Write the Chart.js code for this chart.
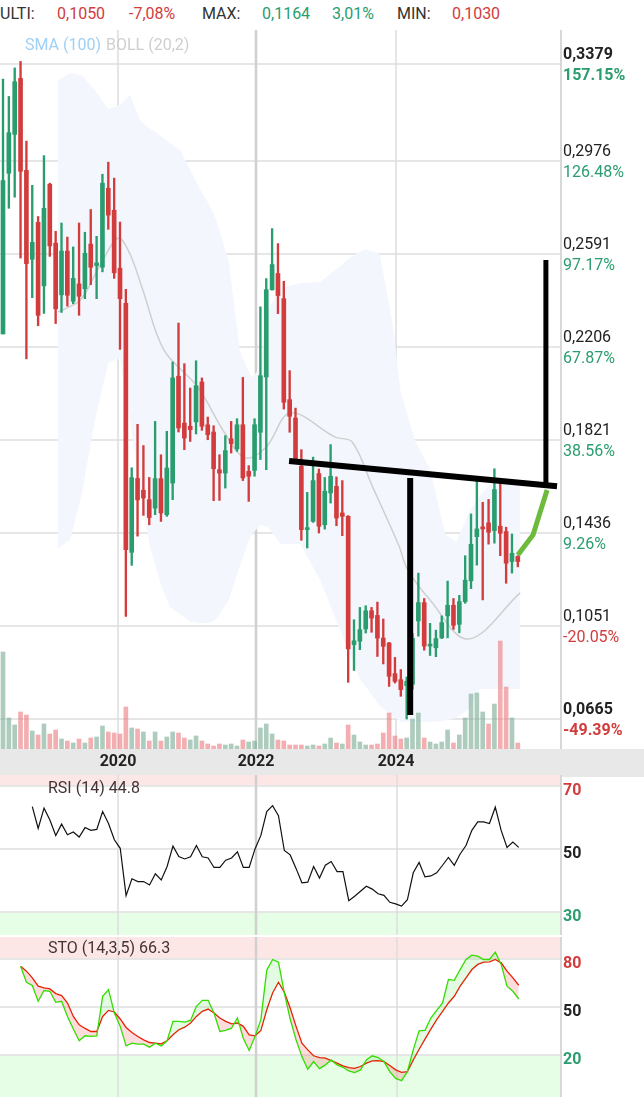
<!DOCTYPE html>
<html><head><meta charset="utf-8">
<script src="https://cdn.jsdelivr.net/npm/chart.js@4/dist/chart.umd.min.js"></script>
<style>
body{margin:0;width:644px;height:1097px;overflow:hidden;background:#fff;font-family:Roboto,sans-serif;position:relative}
canvas{position:absolute;left:0}
.t{position:absolute;font-size:16px;white-space:nowrap;line-height:18px}
</style></head><body>
<div class="t" style="left:0;top:5px;color:#333">ULTI:</div>
<div class="t" style="left:57px;top:5px;color:#d23c3c">0,1050</div>
<div class="t" style="left:129px;top:5px;color:#d23c3c">-7,08%</div>
<div class="t" style="left:202px;top:5px;color:#333">MAX:</div>
<div class="t" style="left:262px;top:5px;color:#2a9d6f">0,1164</div>
<div class="t" style="left:332px;top:5px;color:#2a9d6f">3,01%</div>
<div class="t" style="left:397px;top:5px;color:#333">MIN:</div>
<div class="t" style="left:452px;top:5px;color:#d23c3c">0,1030</div>
<canvas id="main" width="644" height="747" style="top:30px"></canvas>
<canvas id="rsi" width="644" height="160" style="top:775px"></canvas>
<canvas id="sto" width="644" height="160" style="top:937px"></canvas>
<div class="t" style="left:25px;top:36px;color:#9fd0f5">SMA (100)</div>
<div class="t" style="left:106px;top:36px;color:#cfcfcf">BOLL (20,2)</div>
<script>
const opens=[.226,.2925,.3086,.3318,.2937,.2569,.2722,.2459,.2879,.2636,.2422,.2603,.2395,.2467,.2447,.2632,.2543,.2536,.2863,.2772,.2532,.2387,.1356,.1662,.1613,.1574,.1539,.1661,.1512,.1643,.2085,.1891,.1878,.1896,.2061,.1884,.1854,.1698,.1684,.1826,.1784,.1884,.1691,.1695,.1853,.2082,.2443,.2510,.2406,.1988,.1912,.1712,.1450,.1484,.1682,.1470,.1602,.1629,.1519,.1505,.0974,.0988,.1039,.1114,.1095,.1001,.0981,.0854,.0829,.0804,.0810,.1072,.1148,.0968,.0961,.1002,.1093,.1137,.1058,.1152,.1238,.1421,.1455,.1478,.1446,.1464,.1442,.1318,.1339];
const highs=[.3315,.3243,.3361,.3388,.3058,.2875,.2746,.2998,.2884,.2685,.2719,.2661,.2620,.2719,.2681,.2775,.2664,.2921,.2971,.2905,.2723,.2445,.1706,.1886,.1798,.1666,.1898,.1760,.1857,.2144,.2305,.2137,.2036,.2149,.2078,.1916,.1880,.1760,.1839,.1898,.1909,.2080,.1715,.1909,.2372,.2489,.2696,.2634,.2478,.2108,.1953,.1781,.1604,.1750,.1701,.1666,.1802,.1668,.1653,.1508,.1077,.1128,.1135,.1128,.1150,.1080,.0983,.0921,.0871,.0840,.1020,.1270,.1165,.1062,.1034,.1093,.1237,.1165,.1178,.1342,.1515,.1653,.1563,.1575,.1702,.1647,.1460,.1432,.1342];
const lows=[.226,.2780,.2826,.2574,.2157,.2410,.2294,.2345,.2581,.2303,.2349,.2375,.2385,.2337,.2406,.2464,.2406,.2517,.2693,.2490,.2196,.1091,.1302,.1423,.1509,.1470,.1512,.1484,.1505,.1574,.1854,.1781,.1815,.1846,.1861,.1822,.1570,.1571,.1622,.1767,.1774,.1653,.1567,.1671,.1740,.1698,.2441,.2344,.1949,.1853,.1735,.1406,.1374,.1480,.1436,.1452,.1560,.1466,.1425,.0818,.0867,.0953,.1022,.1025,.0925,.0894,.0801,.0815,.0760,.0666,.0790,.1009,.0951,.0929,.0924,.0999,.1002,.1037,.1023,.1145,.1206,.1303,.1159,.1390,.1394,.1342,.1228,.1270,.1296];
const closes=[.2895,.3093,.3304,.2933,.2551,.2639,.2337,.2780,.2624,.2364,.2603,.2420,.2490,.2416,.2594,.2536,.2554,.2884,.2752,.2513,.2406,.1367,.1665,.1573,.1581,.1500,.1661,.1519,.1705,.2078,.1871,.1829,.1864,.2046,.1878,.1843,.1702,.1684,.1777,.1806,.1884,.1664,.1671,.1884,.2087,.2443,.2547,.2419,.1977,.1919,.1740,.1450,.1457,.1653,.1464,.1609,.1671,.1498,.1505,.0956,.0990,.1036,.1114,.1084,.1001,.0967,.0843,.0822,.0788,.0822,.1000,.1148,.0968,.0975,.0999,.1065,.1137,.1054,.1152,.1241,.1389,.1453,.1453,.1439,.1616,.1435,.1311,.1352,.1318];
const volumes=[97,31,24,37,34,18,14,25,15,19,10,8,6,10,6,11,12,23,17,16,15,42,21,20,17,8,17,8,12,17,16,11,9,13,8,5,3,5,4,5,3,9,7,8,21,25,15,9,8,4,4,4,3,4,3,5,11,6,5,24,14,7,4,4,5,16,36,13,10,11,30,36,11,7,5,7,19,6,14,31,55,56,37,25,45,108,62,31,6];
const volUp=[1,1,1,0,0,1,0,1,0,0,1,0,1,0,1,0,1,1,0,0,0,0,1,0,1,0,1,0,1,1,0,0,1,1,0,0,0,0,1,1,1,0,1,1,1,1,1,0,0,0,0,0,1,1,0,1,1,0,1,0,1,1,1,0,0,0,0,0,0,1,1,1,0,1,1,1,1,0,1,1,1,1,1,0,1,0,0,1,0];
const bandX=[9.4,11.5,13.5,15.7,18,20,21.7,23.5,25.1,27,28.5,30.3,32,33.7,35.4,36.5,38.6,40.5,41.5,42.5,44,45.3,47.4,50.8,54.2,57.6,59,61,62,64.4,66.5,68,70.4,73,75.6,77.5,79.8,81.5,83.2,88.4];
const bandUpper=[.331,.334,.333,.327,.319,.321,.325,.314,.311,.308,.305,.302,.294,.286,.279,.273,.256,.219,.213,.208,.212,.236,.245,.247,.2475,.254,.257,.260,.261,.259,.232,.202,.182,.170,.143,.140,.153,.159,.1635,.165];
const bandLower=[.137,.141,.160,.190,.214,.216,.190,.160,.138,.122,.113,.110,.107,.1064,.1064,.108,.116,.130,.137,.143,.147,.146,.139,.139,.124,.1035,.095,.083,.080,.072,.068,.0654,.0654,.0654,.066,.067,.071,.079,.079,.079];
const midX=[9.4,13.2,16.6,19.7,21.7,23.9,27.5,33.3,37.9,41.4,45,49.1,56.8,59.7,63.1,67.7,69.1,73,79.5,88.4];
const midVal=[.2351,.2400,.2545,.2657,.2591,.2442,.2194,.2040,.1850,.1747,.1792,.1933,.1833,.1813,.1631,.1382,.1287,.1159,.0997,.1188];
const priceTicks=[0.3379,0.2976,0.2591,0.2206,0.1821,0.1436,0.1051,0.0665];
const pctLabels=['157.15%','126.48%','97.17%','67.87%','38.56%','9.26%','-20.05%','-49.39%'];
const yearLabels=['2020','2022','2024'];
const yearPos=[19.66,43.25,67.18];
const neckline=[{x:48.9,y:.1734},{x:94.7,y:.1630}];
const vline1=[{x:69.6,y:.1664},{x:69.6,y:.0683}];
const vline2=[{x:92.8,y:.2566},{x:92.8,y:.1631}];
const projection=[{x:88,y:.1345},{x:90.6,y:.1428},{x:93,y:.1614}];
const rsiStart=5;
const rsiVals=[63.5,56.5,63.0,59.2,54.3,57.9,54.5,55.4,53.8,56.8,55.9,56.2,61.9,58.1,52.9,50.2,35.1,40.5,39.6,39.6,38.5,42.1,40.1,44.4,50.9,47.6,46.8,47.5,51.1,47.5,47.1,44.1,44.1,46.4,47.1,49.1,44.1,44.1,50.0,54.3,61.9,63.8,60.6,49.5,48.1,43.8,39.2,39.4,44.4,40.7,44.8,46.0,42.8,42.8,33.5,34.9,36.5,38.1,37.2,35.7,35.2,33.0,32.5,31.8,33.8,42.4,45.7,41.1,41.4,42.4,44.8,47.3,44.8,48.4,51.1,55.9,58.6,58.6,58.1,63.3,55.9,50.5,52.2,50.5];
const stoStart=3;
const stoK=[75.5,65.5,63.4,53.6,60.3,59.8,52.9,53.6,44.1,36.2,28.9,32.0,31.6,32.0,56.7,60.9,46.2,37.9,25.7,27.4,26.8,26.8,24.9,27.4,25.7,28.9,41.0,41.0,40.6,41.6,50.4,54.2,54.2,46.2,34.7,35.4,36.8,43.1,30.5,22.8,31.6,42.1,73.0,79.7,78.0,58.8,42.5,29.5,19.0,11.1,15.9,11.5,13.8,16.9,13.8,12.3,10.0,9.0,10.7,16.9,19.5,18.4,15.9,9.6,5.4,4.0,9.6,23.2,35.1,35.4,43.1,47.9,52.5,67.2,66.7,73.4,79.7,82.4,81.8,79.7,79.7,84.3,76.6,63.0,59.8,55.0];
const stoD=[75.5,72.4,68.2,63.0,61.9,61.3,58.4,57.1,52.5,44.1,38.9,36.6,34.7,34.7,44.1,47.9,46.9,42.5,37.2,34.1,31.6,29.5,27.8,27.4,27.0,28.9,32.6,35.8,37.4,40.0,44.1,47.3,48.7,46.2,43.1,41.0,39.5,40.0,37.9,32.6,32.0,35.4,48.3,58.8,65.5,59.2,49.4,37.9,27.4,23.2,19.5,18.4,18.0,16.5,14.9,13.2,12.1,11.7,12.8,14.9,16.3,16.5,15.9,13.4,10.7,9.2,9.6,16.9,23.6,29.9,36.2,42.1,47.3,52.5,56.7,63.0,68.2,73.4,76.6,78.0,78.2,79.7,77.6,72.4,68.2,63.6];

const GREEN='#2a9d6f', RED='#d23c3c';
const XMIN=-0.513, XMAX=95.21;
const idx=opens.map((_,i)=>i);
const up=idx.map(i=>closes[i]>=opens[i]);
const candleCol=up.map(u=>u?GREEN:RED);
const xScale={type:'linear',min:XMIN,max:XMAX,display:false,offset:false,grid:{offset:false}};

function vGrid(ch,top,bottom){
  const c=ch.ctx,xs=ch.scales.x;
  yearPos.forEach((p,k)=>{c.strokeStyle=k==1?'#d0d0d0':'#dcdcdc';c.lineWidth=k==1?2.5:1.5;
    const x=Math.round(xs.getPixelForValue(p));c.beginPath();c.moveTo(x,top);c.lineTo(x,bottom);c.stroke();});
  c.strokeStyle='#d8d8d8';c.lineWidth=2;c.beginPath();c.moveTo(561,top);c.lineTo(561,bottom);c.stroke();
}

const mainPlugin={id:'mp',
  beforeDatasetsDraw(ch){
    const c=ch.ctx,y=ch.scales.y,a=ch.chartArea;c.save();
    c.strokeStyle='#e6e6e6';c.lineWidth=2;
    priceTicks.forEach(v=>{const py=Math.round(y.getPixelForValue(v));c.beginPath();c.moveTo(0,py);c.lineTo(a.right,py);c.stroke();});
    vGrid(ch,0,a.bottom);c.restore();
  },
  afterDraw(ch){
    const c=ch.ctx,y=ch.scales.y,a=ch.chartArea,xs=ch.scales.x;c.save();
    priceTicks.forEach((v,k)=>{const py=y.getPixelForValue(v);const b=(k==0||k==priceTicks.length-1);
      c.font=(b?'bold ':'')+'16px Roboto';c.textBaseline='alphabetic';c.fillStyle='#222';c.fillText(String(v.toFixed(4)).replace('.',','),563,py-5);
      c.fillStyle=pctLabels[k][0]=='-'?RED:GREEN;c.textBaseline='top';c.fillText(pctLabels[k],563,py+4);});
    c.fillStyle='#e8e8e8';c.fillRect(0,a.bottom,644,ch.height-a.bottom);
    c.font='bold 16px Roboto';c.fillStyle='#222';c.textAlign='center';c.textBaseline='middle';
    yearPos.forEach((p,k)=>c.fillText(yearLabels[k],xs.getPixelForValue(p),a.bottom+13));
    c.restore();
  }};

const ds=[];
ds.push({type:'line',data:bandX.map((x,i)=>({x,y:bandUpper[i]})),borderWidth:0,pointRadius:0,fill:'+1',backgroundColor:'#f3f7fd',tension:0,order:20});
ds.push({type:'line',data:bandX.map((x,i)=>({x,y:bandLower[i]})),borderWidth:0,pointRadius:0,fill:false,tension:0,order:19});
ds.push({type:'bar',yAxisID:'yv',data:idx.map(i=>({x:i,y:volumes[i]})),backgroundColor:idx.map(i=>volUp[i]?'rgba(120,170,145,0.6)':'rgba(235,120,125,0.6)'),barThickness:4,grouped:false,order:18});
ds.push({type:'line',data:midX.map((x,i)=>({x,y:midVal[i]})),borderColor:'#cfcfcf',borderWidth:1.5,pointRadius:0,tension:0.35,order:17});
ds.push({type:'bar',data:idx.map(i=>({x:i,y:[lows[i],highs[i]]})),backgroundColor:candleCol,barThickness:1.7,grouped:false,order:6});
ds.push({type:'bar',data:idx.map(i=>({x:i,y:[opens[i],closes[i]]})),backgroundColor:candleCol,barThickness:4,minBarLength:2,grouped:false,order:5});
[[neckline,'#000',6],[vline1,'#000',6],[vline2,'#000',5],[projection,'#6cbb3c',5]].forEach(([d,col,w])=>
  ds.push({type:'line',data:d,borderColor:col,borderWidth:w,pointRadius:0,borderCapStyle:'butt',order:1}));

new Chart(document.getElementById('main'),{data:{datasets:ds},
  options:{responsive:false,animation:false,events:[],layout:{padding:{right:84,bottom:28}},
    plugins:{legend:{display:false},tooltip:{enabled:false}},
    scales:{x:xScale,y:{min:.0542,max:.3518,display:false},yv:{min:0,max:719,display:false}}},
  plugins:[mainPlugin]});

function panelPlugin(ticks,tickCols,topBand,botBand,label,labelY){
  return {id:'pp',beforeDatasetsDraw(ch){
    const c=ch.ctx,y=ch.scales.y,a=ch.chartArea;c.save();
    c.fillStyle='#fde6e6';c.fillRect(0,0,561,y.getPixelForValue(topBand));
    const gb=y.getPixelForValue(botBand);c.fillStyle='#e6fde6';c.fillRect(0,gb,561,ch.height-gb);
    c.strokeStyle='#e6e6e6';c.lineWidth=2;
    ticks.forEach(v=>{const py=Math.round(y.getPixelForValue(v));c.beginPath();c.moveTo(0,py);c.lineTo(561,py);c.stroke();});
    vGrid(ch,0,ch.height);
    c.fillStyle='#443333';c.font='16px Roboto';c.textBaseline='middle';c.fillText(label,48,labelY);
    c.restore();},
  afterDraw(ch){const c=ch.ctx,y=ch.scales.y;c.save();c.font='bold 16px Roboto';c.textBaseline='middle';
    ticks.forEach((v,k)=>{c.fillStyle=tickCols[k];c.fillText(String(v),563,y.getPixelForValue(v)+5);});c.restore();}};
}
new Chart(document.getElementById('rsi'),{type:'line',
  data:{datasets:[{data:rsiVals.map((v,k)=>({x:rsiStart+k,y:v})),borderColor:'#111',borderWidth:1.2,pointRadius:0}]},
  options:{responsive:false,animation:false,events:[],layout:{padding:{right:83}},plugins:{legend:{display:false},tooltip:{enabled:false}},
    scales:{x:xScale,y:{min:22.58,max:73.55,display:false}}},
  plugins:[panelPlugin([70,50,30],[RED,'#222',GREEN],70,30,'RSI (14) 44.8',14)]});
new Chart(document.getElementById('sto'),{type:'line',
  data:{datasets:[
    {data:stoK.map((v,k)=>({x:stoStart+k,y:v})),borderColor:'#33dd00',borderWidth:1.3,pointRadius:0,fill:{target:1,above:'rgba(60,230,60,0.15)',below:'rgba(240,60,60,0.18)'}},
    {data:stoD.map((v,k)=>({x:stoStart+k,y:v})),borderColor:'#ee1a00',borderWidth:1.3,pointRadius:0,fill:false}]},
  options:{responsive:false,animation:false,events:[],layout:{padding:{right:83}},plugins:{legend:{display:false},tooltip:{enabled:false}},
    scales:{x:xScale,y:{min:-6.25,max:93.75,display:false}}},
  plugins:[panelPlugin([80,50,20],[RED,'#222',GREEN],80,20,'STO (14,3,5) 66.3',12)]});
</script></body></html>
